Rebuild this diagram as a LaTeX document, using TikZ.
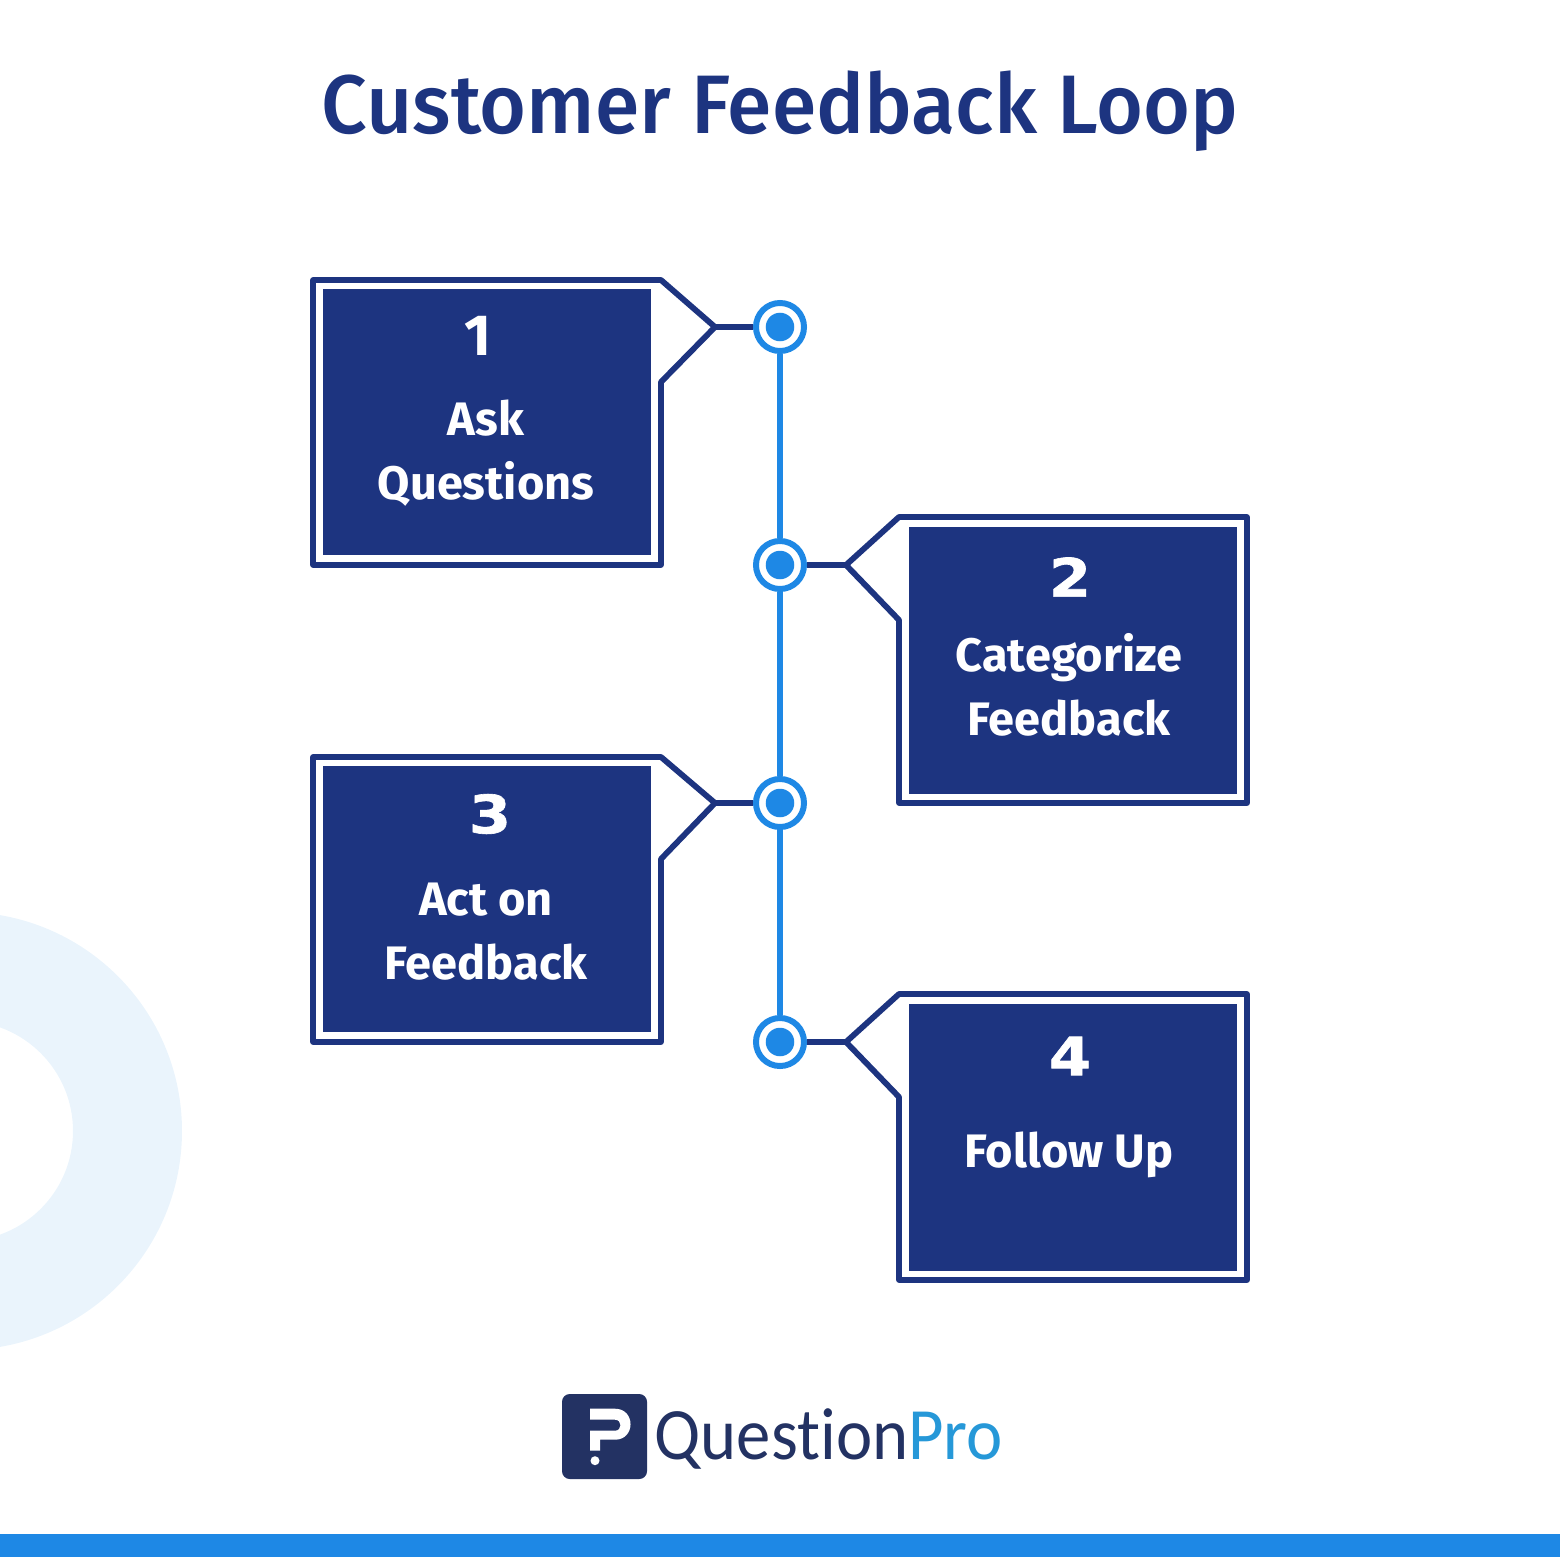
\documentclass[tikz,border=0pt]{standalone}
\usepackage{fontspec}
\setmainfont{Fira Sans}
\newfontfamily\titlefont[FakeStretch=0.97]{Fira Sans Medium}
\newfontfamily\digitfont[BoldFeatures={FakeBold=1.2,FakeStretch=1.15}]{DejaVu Sans}
\newfontfamily\logofont[Ligatures=NoCommon,FakeStretch=0.93]{Carlito}
\definecolor{feedbackNavy}{RGB}{29, 52, 128}
\definecolor{feedbackBlue}{RGB}{30, 136, 229}
\definecolor{feedbackPale}{RGB}{234, 244, 252}
\definecolor{logoNavy}{RGB}{35, 50, 99}
\definecolor{logoBlue}{RGB}{38, 152, 216}
\tikzset{
  stepfill/.style={fill=feedbackNavy, inner sep=0pt, minimum width=3.28cm, minimum height=2.66cm},
  stepline/.style={draw=feedbackNavy, line width=1.65pt, line join=round},
  pinline/.style={draw=feedbackNavy, line width=1.6pt},
  stemline/.style={draw=feedbackBlue, line width=1.5pt},
  stepdot/.style={circle, draw=feedbackBlue, fill=white, line width=1.7pt, inner sep=0pt, minimum size=0.48cm},
  dotcore/.style={circle, fill=feedbackBlue, inner sep=0pt, minimum size=0.285cm},
  stepnum/.style={text=white, font=\digitfont\bfseries\fontsize{15}{15}\selectfont},
  steplabel/.style={text=white, align=center, font=\bfseries\fontsize{13.35}{18.2}\selectfont}
}
\begin{document}
\begin{tikzpicture}[x=0.01cm, y=-0.01cm]
  \useasboundingbox (0,0) rectangle (1560,1560);
  % soft ring on the left edge
  \begin{scope}
    \clip (0,0) rectangle (1560,1560);
    \fill[feedbackPale, even odd rule] (-37,1131) circle (219) (-37,1131) circle (110);
  \end{scope}
  \node[text=feedbackNavy, font=\titlefont\fontsize{23.6}{23.6}\selectfont] (title) at (780,111) {Customer Feedback Loop};

  \draw[stepline] (313,280) -- (661,280) -- (715,327) -- (661,382) -- (661,565) -- (313,565) -- cycle;
  \draw[stepline] (1247,517) -- (899,517) -- (846,565) -- (899,620) -- (899,803) -- (1247,803) -- cycle;
  \draw[stepline] (313,757) -- (661,757) -- (715,803) -- (661,859) -- (661,1042) -- (313,1042) -- cycle;
  \draw[stepline] (1247,994) -- (899,994) -- (846,1042) -- (899,1097) -- (899,1280) -- (1247,1280) -- cycle;

  \node[stepfill] (boxa) at (487,422) {};
  \node[stepfill] (boxb) at (1073,660.5) {};
  \node[stepfill] (boxc) at (487,899) {};
  \node[stepfill] (boxd) at (1073,1137.5) {};

  \node[stepnum, font=\bfseries\fontsize{16.5}{16.5}\selectfont] (numa) at (478,336) {1};
  \node[stepnum] (numb) at (1070,577) {2};
  \node[stepnum] (numc) at (490,814) {3};
  \node[stepnum] (numd) at (1070,1056) {4};

  \node[steplabel] (laba) at (486,453) {Ask\\Questions};
  \node[steplabel] (labb) at (1069,684.5) {Categorize\\Feedback};
  \node[steplabel] (labc) at (486,932) {Act on\\Feedback};
  \node[steplabel] (labd) at (1069,1155) {Follow Up};

  \node[stepdot] (dota) at (780,327) {};
  \node[stepdot] (dotb) at (780,565) {};
  \node[stepdot] (dotc) at (780,803) {};
  \node[stepdot] (dotd) at (780,1042) {};
  \node[dotcore] (corea) at (780,327) {};
  \node[dotcore] (coreb) at (780,565) {};
  \node[dotcore] (corec) at (780,803) {};
  \node[dotcore] (cored) at (780,1042) {};

  \coordinate (tipa) at (715,327);
  \coordinate (tipb) at (846,565);
  \coordinate (tipc) at (715,803);
  \coordinate (tipd) at (846,1042);
  \draw[stemline] (dota) -- (dotb);
  \draw[stemline] (dotb) -- (dotc);
  \draw[stemline] (dotc) -- (dotd);
  \draw[pinline] (tipa) -- (dota);
  \draw[pinline] (tipb) -- (dotb);
  \draw[pinline] (tipc) -- (dotc);
  \draw[pinline] (tipd) -- (dotd);

  % logo
  \fill[logoNavy, rounded corners=2.2pt] (562,1394) rectangle (647,1479);
  \fill[white] (590,1408.7) -- (615,1408.7) .. controls (635.7,1408.7) and (635.7,1439.7) .. (615,1439.7)
    -- (600,1439.7) -- (600,1450.7) -- (590,1450.7) -- (590,1430.7) -- (615,1430.7)
    .. controls (622.3,1430.7) and (622.3,1419.7) .. (615,1419.7) -- (590,1419.7) -- cycle;
  \fill[white] (595,1460.7) circle (4.5);
  \node[anchor=west, inner sep=0pt, font=\logofont\fontsize{21}{21}\selectfont] (logo) at (654,1439) {\textcolor{logoNavy}{Question}\textcolor{logoBlue}{Pro}};

  \fill[feedbackBlue] (0,1534) rectangle (1560,1557);
\end{tikzpicture}
\end{document}
